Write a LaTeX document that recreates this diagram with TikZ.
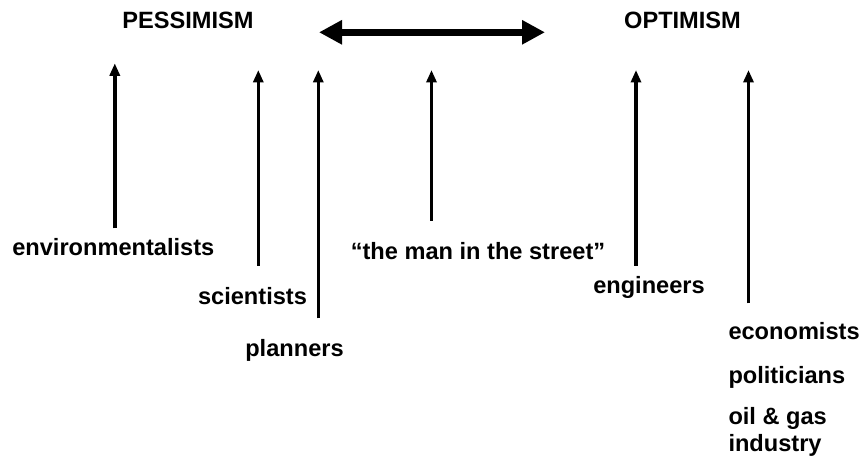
\documentclass[tikz,border=0pt]{standalone}
\usepackage{fontspec}
\setmainfont{Liberation Sans}
\usetikzlibrary{arrows.meta}
\tikzset{
  lbl/.style={inner sep=0pt, font=\fontsize{23.6}{26.7}\selectfont\bfseries},
  uparrow/.style={line width=3.6pt, -{Triangle[length=12.5pt,width=10pt]}},
  bothway/.style={line width=7pt, {Triangle[length=23pt,width=23pt]}-{Triangle[length=23pt,width=23pt]}}
}
\begin{document}
\begin{tikzpicture}[x=1pt,y=-1pt]
\useasboundingbox (0,0) rectangle (863,462);
% headings
\node[lbl, anchor=base] (pess) at (188,29) {PESSIMISM};
\node[lbl, anchor=base] (opt) at (682.5,28.5) {OPTIMISM};
\coordinate (dl) at (319,32.3);
\coordinate (dr) at (545,32.3);
\draw[bothway] (dl) -- (dr);
% labels
\node[lbl, anchor=base] (env) at (113.3,256) {environmentalists};
\node[lbl, anchor=base] (sci) at (252.5,305) {scientists};
\node[lbl, anchor=base] (plan) at (294.5,356.7) {planners};
\node[lbl, anchor=base] (man) at (478,259.3) {“the man in the street”};
\node[lbl, anchor=base] (eng) at (649,293.3) {engineers};
\node[lbl, anchor=base west] (eco) at (728.3,340) {economists};
\node[lbl, anchor=base west] (pol) at (728.3,384) {politicians};
\node[lbl, anchor=base west, align=left] (oil) at (728.3,451.7) {oil \& gas\\industry};
% arrow ends
\coordinate (envB) at (114.8,228.3);  \coordinate (envT) at (114.8,63.3);
\coordinate (sciB) at (258.3,266);    \coordinate (sciT) at (258.3,70);
\coordinate (planB) at (318.3,318.3); \coordinate (planT) at (318.3,70);
\coordinate (manB) at (431.5,220.7);  \coordinate (manT) at (431.5,70);
\coordinate (engB) at (636,266);      \coordinate (engT) at (636,70);
\coordinate (ecoB) at (748.5,303.3);  \coordinate (ecoT) at (748.5,70);
\draw[uparrow] (envB) -- (envT);
\draw[uparrow] (sciB) -- (sciT);
\draw[uparrow] (planB) -- (planT);
\draw[uparrow] (manB) -- (manT);
\draw[uparrow] (engB) -- (engT);
\draw[uparrow] (ecoB) -- (ecoT);
\end{tikzpicture}
\end{document}
